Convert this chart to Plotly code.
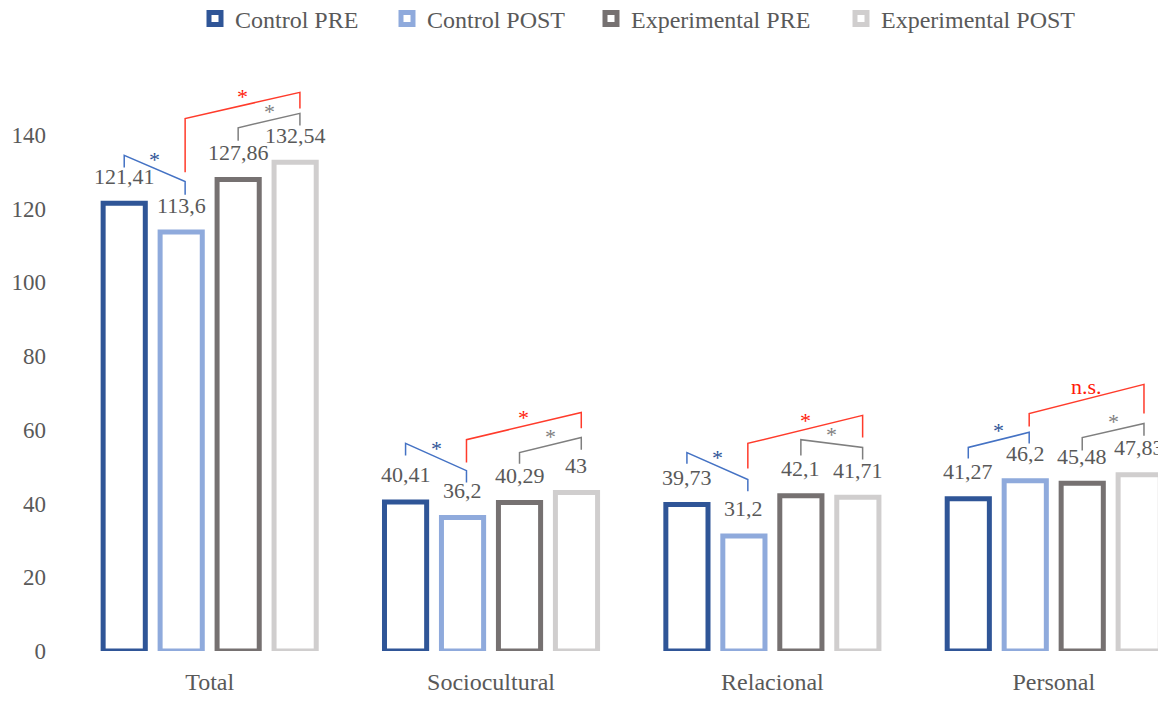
import plotly.graph_objects as go

categories = ["Total", "Sociocultural", "Relacional", "Personal"]
series_names = ["Control PRE", "Control POST", "Experimental PRE", "Experimental POST"]
control_pre = [121.41, 40.41, 39.73, 41.27]
control_post = [113.6, 36.2, 31.2, 46.2]
exp_pre = [127.86, 40.29, 42.1, 45.48]
exp_post = [132.54, 43, 41.71, 47.83]
y_ticks = [0, 20, 40, 60, 80, 100, 120, 140]

series_values = [control_pre, control_post, exp_pre, exp_post]
series_colors = ["#2F5597", "#8FAADC", "#767171", "#D0CECE"]

# significance brackets: (group, bar_a, bar_b, a_top, a_bottom, b_top, b_bottom, label, color)
brackets = [
    (0, 0, 1, 134.4, 131.1, 127.3, 123.7, "*", "blue"),
    (0, 1, 3, 144.4, 129.8, 151.5, 147.1, "*", "red"),
    (0, 2, 3, 141.9, 138.4, 145.8, 142.5, "*", "gray"),
    (1, 0, 1, 56.3, 53.0, 48.9, 45.7, "*", "blue"),
    (1, 1, 3, 57.3, 51.1, 64.7, 60.4, "*", "red"),
    (1, 2, 3, 53.8, 50.8, 57.9, 54.6, "*", "gray"),
    (2, 0, 1, 53.8, 50.8, 46.5, 43.3, "*", "blue"),
    (2, 1, 3, 56.3, 49.5, 63.9, 57.9, "*", "red"),
    (2, 2, 3, 57.3, 53.0, 55.2, 51.9, "*", "gray"),
    (3, 0, 1, 55.2, 52.2, 59.3, 56.3, "*", "blue"),
    (3, 1, 3, 64.4, 60.9, 72.3, 64.4, "n.s.", "red"),
    (3, 2, 3, 57.9, 54.4, 61.7, 58.4, "*", "gray"),
]
line_colors = {"blue": "#4472C4", "red": "#FF3B2B", "gray": "#7F7F7F"}
mark_colors = {"blue": "#2F5597", "red": "#FF1A0A", "gray": "#7F7F7F"}

FONT = "Liberation Serif, Times New Roman, serif"
TXT = "#595959"

BARGAP = 0.19
GROUPGAP = 0.26
slot = (1 - BARGAP) / 4
offsets = [(-1.5 + k) * slot for k in range(4)]
nudge = [0.0, 0.014, 0.0, 0.017]

fig = go.Figure()
legend_ids = ["legend", "legend2", "legend3", "legend4"]
for k in range(4):
    fig.add_trace(go.Bar(
        x=list(range(len(categories))), y=series_values[k], name=series_names[k],
        marker=dict(color="white", line=dict(color=series_colors[k], width=5)),
        legend=legend_ids[k], hoverinfo="y",
    ))

annotations = []
for k in range(4):
    for i, v in enumerate(series_values[k]):
        annotations.append(dict(
            x=i + offsets[k], y=v, text=f"{v:g}".replace(".", ","),
            showarrow=False, yanchor="middle", yshift=27,
            font=dict(family=FONT, size=22, color=TXT),
        ))

for (g, a, b, at, ab, bt, bb, lab, c) in brackets:
    xa = g + offsets[a] + nudge[a]
    xb = g + offsets[b] + nudge[b]
    fig.add_trace(go.Scatter(
        x=[xa, xa, xb, xb], y=[ab, at, bt, bb], mode="lines",
        line=dict(color=line_colors[c], width=1.5),
        showlegend=False, hoverinfo="skip",
    ))
    annotations.append(dict(
        x=(xa + xb) / 2, y=(at + bt) / 2, text=lab, showarrow=False,
        yanchor="middle", yshift=12 if lab != "*" else 9,
        font=dict(family=FONT, size=22, color=mark_colors[c]),
    ))

# page body has an 8px margin; figure is sized so that it fills the window
PAGE_OFF = 8
W, H = 1166 - PAGE_OFF, 710 - PAGE_OFF
ML, MR, MT, MB = 69 - PAGE_OFF, 0, 61 - PAGE_OFF, 59
legend_text_x = [235, 427, 631, 881]
legend_cfg = {}
for k, lid in enumerate(legend_ids):
    legend_cfg[lid] = dict(
        xref="container", yref="container",
        x=(legend_text_x[k] - PAGE_OFF + 2 - 42) / W, xanchor="left",
        y=1 - 11 / H, yanchor="middle",
        orientation="h", font=dict(family=FONT, size=24, color=TXT),
        bgcolor="rgba(0,0,0,0)", borderwidth=0,
    )

fig.update_layout(
    width=W, height=H,
    margin=dict(l=ML, r=MR, t=MT, b=MB, autoexpand=False),
    paper_bgcolor="white", plot_bgcolor="white",
    barmode="group", bargap=BARGAP, bargroupgap=GROUPGAP,
    annotations=annotations,
    xaxis=dict(
        range=[-0.5, 3.399], tickvals=list(range(len(categories))), ticktext=categories,
        showgrid=False, zeroline=False, showline=False, ticks="",
        ticklabelstandoff=14, automargin=False,
        tickfont=dict(family=FONT, size=24, color=TXT),
    ),
    yaxis=dict(
        range=[0, 160], tickvals=y_ticks, showgrid=False, zeroline=False,
        showline=False, ticks="", ticklabelstandoff=22, automargin=False,
        tickfont=dict(family=FONT, size=23, color=TXT),
    ),
    **legend_cfg,
)

fig.write_html("out.html")
